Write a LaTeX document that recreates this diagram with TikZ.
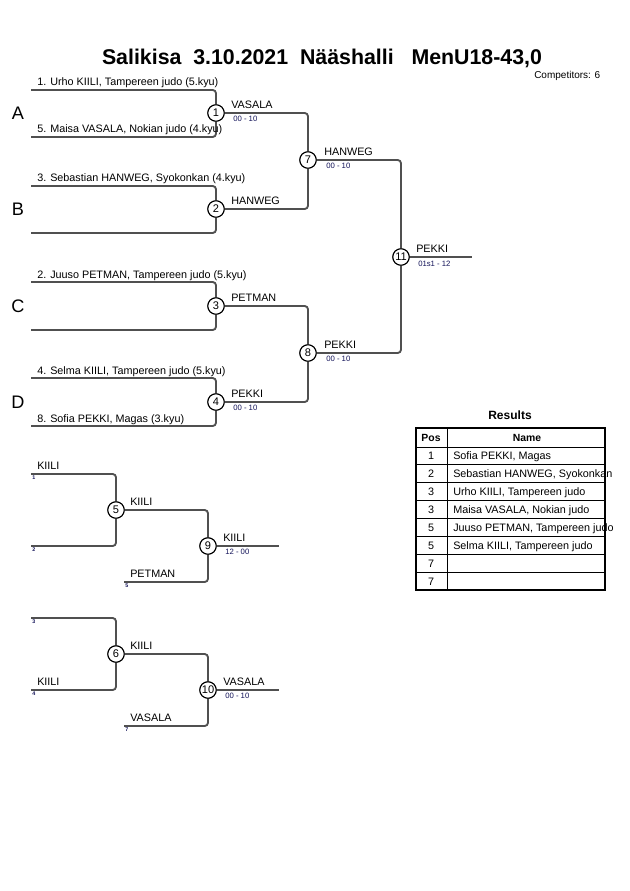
\documentclass[tikz,border=0pt]{standalone}
\usepackage{fontspec}
\setmainfont{Liberation Sans}
\definecolor{linegray}{RGB}{80,80,80}
\definecolor{scoreblue}{RGB}{20,20,90}
\begin{document}
\begin{tikzpicture}[x=0.75pt,y=-0.75pt,
  conn/.style={draw=linegray,line width=1.4pt,rounded corners=2.5pt},
  matchc/.style={circle,draw=black,line width=0.8pt,fill=white,minimum size=12.3pt,inner sep=0pt,font=\fontsize{8.3}{9}\selectfont},
  entname/.style={anchor=base west,inner sep=0pt,font=\fontsize{8.1}{10}\selectfont},
  scoretxt/.style={anchor=west,inner sep=0pt,font=\fontsize{5.8}{7}\selectfont,text=scoreblue},
  pool/.style={font=\fontsize{13.6}{16}\selectfont,inner sep=0pt},
  tinyno/.style={anchor=north west,inner sep=0pt,font=\bfseries\fontsize{4}{4.5}\selectfont,text=scoreblue},
  tabline/.style={draw=black,line width=0.6pt},
  tabtext/.style={inner sep=0pt,font=\fontsize{8.1}{10}\selectfont},
  tabhead/.style={inner sep=0pt,font=\bfseries\fontsize{7.8}{10}\selectfont},
]
\useasboundingbox (0,0) rectangle (630,891);
\fill[white] (0,0) rectangle (630,891);

% title
\node[anchor=base,inner sep=0pt,font=\bfseries\fontsize{16}{19}\selectfont] (title) at (322,65) {Salikisa~~3.10.2021~~Nääshalli~~~MenU18-43,0};
\node[anchor=base west,inner sep=0pt,font=\fontsize{7.5}{9}\selectfont] (comp) at (534,79) {Competitors: 6};

% pool letters
\node[pool] (pA) at (18,113) {A};
\node[pool] (pB) at (18,209) {B};
\node[pool] (pC) at (18,306) {C};
\node[pool] (pD) at (18,402) {D};

% entrant line ends
\coordinate (e1) at (31,90);
\coordinate (e2) at (31,137);
\coordinate (e3) at (31,186);
\coordinate (e4) at (31,233);
\coordinate (e5) at (31,282);
\coordinate (e6) at (31,330);
\coordinate (e7) at (31,378);
\coordinate (e8) at (31,426);
\coordinate (f11) at (472,257);

% matches main bracket
\node[matchc] (m1) at (216,113) {1};
\node[matchc] (m2) at (216,209) {2};
\node[matchc] (m3) at (216,306) {3};
\node[matchc] (m4) at (216,402) {4};
\node[matchc] (m7) at (308,160) {7};
\node[matchc] (m8) at (308,353) {8};
\node[matchc] (m11) at (401,257) {11};

\draw[conn] (e1) -| (m1);
\draw[conn] (e2) -| (m1);
\draw[conn] (e3) -| (m2);
\draw[conn] (e4) -| (m2);
\draw[conn] (e5) -| (m3);
\draw[conn] (e6) -| (m3);
\draw[conn] (e7) -| (m4);
\draw[conn] (e8) -| (m4);
\draw[conn] (m1) -| (m7);
\draw[conn] (m2) -| (m7);
\draw[conn] (m3) -| (m8);
\draw[conn] (m4) -| (m8);
\draw[conn] (m7) -| (m11);
\draw[conn] (m8) -| (m11);
\draw[conn] (m11) -- (f11);

% redraw circles on top
\node[matchc] at (m1) {1};
\node[matchc] at (m2) {2};
\node[matchc] at (m3) {3};
\node[matchc] at (m4) {4};
\node[matchc] at (m7) {7};
\node[matchc] at (m8) {8};
\node[matchc] at (m11) {11};

% entrant names
\node[entname] (t1) at (37,86) {1. Urho KIILI, Tampereen judo (5.kyu)};
\node[entname] (t2) at (37,133) {5. Maisa VASALA, Nokian judo (4.kyu)};
\node[entname] (t3) at (37,182) {3. Sebastian HANWEG, Syokonkan (4.kyu)};
\node[entname] (t5) at (37,278) {2. Juuso PETMAN, Tampereen judo (5.kyu)};
\node[entname] (t7) at (37,374) {4. Selma KIILI, Tampereen judo (5.kyu)};
\node[entname] (t8) at (37,422) {8. Sofia PEKKI, Magas (3.kyu)};

% winners and scores
\node[entname] (w1) at (231,108.5) {VASALA};
\node[scoretxt] (s1) at (233,119) {00 - 10};
\node[entname] (w2) at (231,204.5) {HANWEG};
\node[entname] (w3) at (231,301.5) {PETMAN};
\node[entname] (w4) at (231,397.5) {PEKKI};
\node[scoretxt] (s4) at (233,408) {00 - 10};
\node[entname] (w7) at (324,155.5) {HANWEG};
\node[scoretxt] (s7) at (326,166) {00 - 10};
\node[entname] (w8) at (324,348.5) {PEKKI};
\node[scoretxt] (s8) at (326,359) {00 - 10};
\node[entname] (w11) at (416,252.5) {PEKKI};
\node[scoretxt] (s11) at (418,264) {01s1 - 12};

% repechage 1
\coordinate (r1) at (31,474);
\coordinate (r2) at (31,546);
\coordinate (r5) at (124,582);
\coordinate (f9) at (279,546);
\node[matchc] (m5) at (116,510) {5};
\node[matchc] (m9) at (208,546) {9};
\draw[conn] (r1) -| (m5);
\draw[conn] (r2) -| (m5);
\draw[conn] (m5) -| (m9);
\draw[conn] (r5) -| (m9);
\draw[conn] (m9) -- (f9);
\node[matchc] at (m5) {5};
\node[matchc] at (m9) {9};
\node[entname] (q1) at (37,469.5) {KIILI};
\node[tinyno] (n1) at (32,476) {1};
\node[tinyno] (n2) at (32,548) {2};
\node[entname] (w5) at (130,505.5) {KIILI};
\node[entname] (q5) at (130,577.5) {PETMAN};
\node[tinyno] (n5) at (125,584) {5};
\node[entname] (w9) at (223,541.5) {KIILI};
\node[scoretxt] (s9) at (225,552) {12 - 00};

% repechage 2
\coordinate (r3) at (31,618);
\coordinate (r4) at (31,690);
\coordinate (r7) at (124,726);
\coordinate (f10) at (279,690);
\node[matchc] (m6) at (116,654) {6};
\node[matchc] (m10) at (208,690) {10};
\draw[conn] (r3) -| (m6);
\draw[conn] (r4) -| (m6);
\draw[conn] (m6) -| (m10);
\draw[conn] (r7) -| (m10);
\draw[conn] (m10) -- (f10);
\node[matchc] at (m6) {6};
\node[matchc] at (m10) {10};
\node[tinyno] (n3) at (32,620) {3};
\node[entname] (q4) at (37,685.5) {KIILI};
\node[tinyno] (n4) at (32,692) {4};
\node[entname] (w6) at (130,649.5) {KIILI};
\node[entname] (q7) at (130,721.5) {VASALA};
\node[tinyno] (n7) at (125,728) {7};
\node[entname] (w10) at (223,685.5) {VASALA};
\node[scoretxt] (s10) at (225,696) {00 - 10};

% results table
\node[inner sep=0pt,font=\bfseries\fontsize{9}{11}\selectfont] (restitle) at (510,415) {Results};
\foreach \k in {0,...,7} {\draw[tabline] (416,{447+\k*17.875}) -- (605,{447+\k*17.875});}
\draw[tabline] (447,428) -- (447,590);
\draw[draw=black,line width=1.4pt] (416,428) rectangle (605,590);
\node[tabhead,anchor=base] (hpos) at (431,441) {Pos};
\node[tabhead,anchor=base] (hname) at (527,441) {Name};
\foreach \k/\p/\nm in {1/1/{Sofia PEKKI, Magas},2/2/{Sebastian HANWEG, Syokonkan},3/3/{Urho KIILI, Tampereen judo},4/3/{Maisa VASALA, Nokian judo},5/5/{Juuso PETMAN, Tampereen judo},6/5/{Selma KIILI, Tampereen judo},7/7/{},8/7/{}} {
  \node[tabtext,anchor=base] (pos\k) at (431,{447+(\k-0.5)*17.875+4}) {\p};
  \node[tabtext,anchor=base west] (nm\k) at (453,{447+(\k-0.5)*17.875+4}) {\nm};
}
\end{tikzpicture}
\end{document}
